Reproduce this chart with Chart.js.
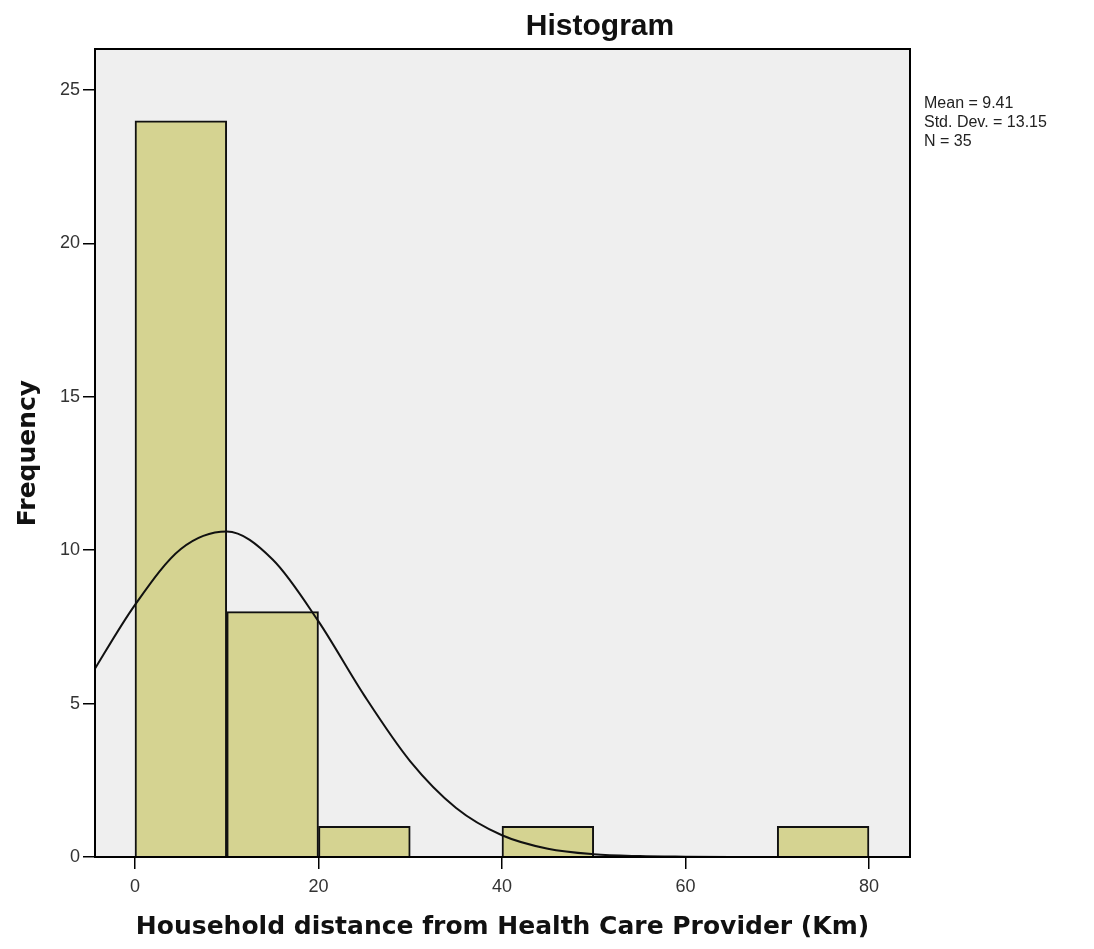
<!DOCTYPE html>
<html><head><meta charset="utf-8">
<script src="https://cdn.jsdelivr.net/npm/chart.js@4"></script>
<style>html,body{margin:0;padding:0;background:#fff}#wrap{width:1094px;height:949px;position:relative}</style>
</head><body><div id="wrap"><canvas id="c" width="1094" height="949"></canvas></div>
<script>
// ---- data ----
const binCenters = [5, 15, 25, 45, 75];          // bins 0-10, 10-20, 20-30, 40-50, 70-80
const frequencies = [24, 8, 1, 1, 1];
const curveX = [-5, 0, 5, 10, 15, 20, 25, 30, 35, 40, 45, 50, 55, 60, 65, 70, 75, 80, 85];
const curveY = [5.83, 8.22, 10.04, 10.61, 9.70, 7.68, 5.26, 3.12, 1.60, 0.71, 0.27, 0.09, 0.03, 0.01, 0, 0, 0, 0, 0];
const xTicks = [0, 20, 40, 60, 80];
const yTicks = [0, 5, 10, 15, 20, 25];
const chartTitle = 'Histogram';
const xTitle = 'Household distance from Health Care Provider (Km)';
const yTitle = 'Frequency';
const statsLines = ['Mean = 9.41', 'Std. Dev. = 13.15', 'N = 35'];

const decor = {
  id: 'decor',
  beforeDatasetsDraw(chart) {
    const {ctx, chartArea: a} = chart;
    ctx.save();
    ctx.fillStyle = '#efefef';
    ctx.fillRect(a.left, a.top, a.right - a.left, a.bottom - a.top);
    ctx.restore();
  },
  afterDatasetsDraw(chart) {
    const {ctx, chartArea: a} = chart;
    ctx.save();
    ctx.strokeStyle = '#000';
    ctx.lineWidth = 2;
    ctx.strokeRect(a.left, a.top, a.right - a.left, a.bottom - a.top);
    ctx.restore();
  },
  afterDraw(chart) {
    const {ctx} = chart;
    ctx.save();
    ctx.fillStyle = '#111';
    ctx.font = 'bold 30px "Liberation Sans", Arial, sans-serif';
    ctx.textAlign = 'center';
    ctx.textBaseline = 'alphabetic';
    ctx.fillText(chartTitle, 600, 35);
    ctx.font = '16px "Liberation Sans", Arial, sans-serif';
    ctx.textAlign = 'left';
    ctx.fillStyle = '#222';
    statsLines.forEach((s, i) => ctx.fillText(s, 924, 108 + i * 19));
    ctx.restore();
  }
};

new Chart(document.getElementById('c'), {
  type: 'bar',
  data: {
    datasets: [
      {
        type: 'line',
        data: curveX.map((x, i) => ({x, y: curveY[i]})),
        borderColor: '#111',
        borderWidth: 2,
        pointRadius: 0,
        fill: false,
        cubicInterpolationMode: 'monotone',
        order: 0
      },
      {
        type: 'bar',
        data: binCenters.map((x, i) => ({x, y: frequencies[i]})),
        backgroundColor: 'rgb(213,211,145)',
        borderColor: '#111',
        borderWidth: 2,
        barPercentage: 1,
        categoryPercentage: 1,
        order: 1
      }
    ]
  },
  options: {
    responsive: false,
    animation: false,
    devicePixelRatio: 1,
    layout: {padding: {left: 0, top: 49, right: 184, bottom: 0}},
    plugins: {legend: {display: false}, tooltip: {enabled: false}, title: {display: false}},
    scales: {
      x: {
        type: 'linear',
        offset: false,
        min: -4.36,
        max: 84.47,
        afterBuildTicks: s => { s.ticks = xTicks.map(v => ({value: v})); },
        afterFit: s => { s.height = 92; },
        grid: {offset: false, drawOnChartArea: false, drawTicks: true, tickLength: 12, color: '#000', lineWidth: 1.5},
        border: {display: true, color: '#000', width: 2},
        ticks: {font: {family: '"Liberation Sans", Arial, sans-serif', size: 18}, color: '#333', padding: 7, maxRotation: 0},
        title: {display: true, text: xTitle, color: '#111',
          font: {family: '"DejaVu Sans", Verdana, sans-serif', size: 25, weight: 'bold'}, padding: {top: 11, bottom: 7}}
      },
      y: {
        type: 'linear',
        min: 0,
        max: 26.34,
        afterBuildTicks: s => { s.ticks = yTicks.map(v => ({value: v})); },
        afterFit: s => { s.width = 95; },
        grid: {drawOnChartArea: false, drawTicks: true, tickLength: 12, color: '#000', lineWidth: 1.5},
        border: {display: true, color: '#000', width: 2},
        ticks: {font: {family: '"Liberation Sans", Arial, sans-serif', size: 18}, color: '#333', padding: 3},
        title: {display: true, text: yTitle, color: '#111',
          font: {family: '"DejaVu Sans", Verdana, sans-serif', size: 25, weight: 'bold'}, padding: {top: 13, bottom: 0}}
      }
    }
  },
  plugins: [decor]
});
</script>
</body></html>
